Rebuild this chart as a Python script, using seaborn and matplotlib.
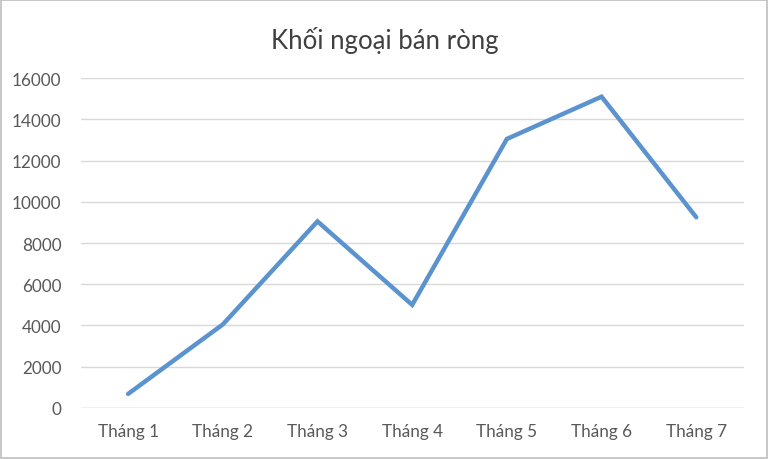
import matplotlib
matplotlib.use("Agg")
import matplotlib.pyplot as plt
import seaborn as sns
import pandas as pd
from matplotlib.patches import Rectangle

# Dữ liệu
months = ["Tháng 1", "Tháng 2", "Tháng 3", "Tháng 4", "Tháng 5", "Tháng 6", "Tháng 7"]
values = [680, 4050, 9050, 5000, 13050, 15100, 9250]
y_ticks = [0, 2000, 4000, 6000, 8000, 10000, 12000, 14000, 16000]
title = "Khối ngoại bán ròng"

df = pd.DataFrame({"month": months, "value": values})

sns.set_style("white")
plt.rcParams["font.family"] = ["Lato", "Open Sans", "DejaVu Sans"]

fig = plt.figure(figsize=(7.69, 4.60), dpi=100)
ax = fig.add_axes([0.105, 0.111, 0.862, 0.717])

sns.lineplot(data=df, x="month", y="value", sort=False, color="#5B93CF",
             linewidth=3.2, ax=ax, solid_joinstyle="miter")

ax.set_xlim(-0.5, len(months) - 0.5)
ax.set_ylim(0, 16000)
ax.set_yticks(y_ticks)
ax.set_yticklabels([str(t) for t in y_ticks])
ax.yaxis.grid(True, color="#D9D9D9", linewidth=1.0)
ax.set_axisbelow(True)
for s in ax.spines.values():
    s.set_visible(False)
ax.axhline(0, color="#D9D9D9", linewidth=1.0, zorder=0)
ax.tick_params(axis="both", length=0, labelsize=12.3, colors="#595959")
ax.tick_params(axis="y", pad=14)
ax.tick_params(axis="x", pad=11)
ax.set_xlabel("")
ax.set_ylabel("")

fig.text(0.5, 0.913, title, ha="center", va="center", fontsize=18.5, color="#404040")

# viền khung ngoài
fig.patches.append(Rectangle((0.001, 0.002), 0.997, 0.995, transform=fig.transFigure,
                             fill=False, edgecolor="#BFBFBF", linewidth=1.2))

fig.savefig("out.png", dpi=100)
